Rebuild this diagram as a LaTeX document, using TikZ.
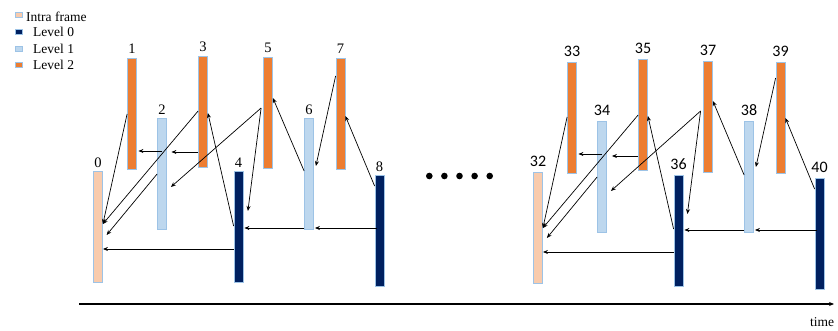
\documentclass[tikz,border=0pt]{standalone}
\usepackage{fontspec}
\setmainfont{Liberation Serif}
\newfontfamily\calfont{Carlito}
\usepackage{tikz}
\usetikzlibrary{positioning,arrows.meta}
\definecolor{peach}{HTML}{F8CBAD}
\definecolor{navy}{HTML}{002060}
\definecolor{skyblue}{HTML}{BDD7EE}
\definecolor{orng}{HTML}{ED7D31}
\definecolor{edgeblue}{HTML}{9DC3E6}
\tikzstyle{frm} = [draw=edgeblue, line width=0.8pt, minimum width=9pt, minimum height=111pt, inner sep=0pt, anchor=north]
\tikzstyle{intra} = [frm, fill=peach]
\tikzstyle{lzero} = [frm, fill=navy]
\tikzstyle{lone} = [frm, fill=skyblue]
\tikzstyle{ltwo} = [frm, fill=orng]
\tikzstyle{key} = [draw=edgeblue, line width=0.6pt, minimum width=7pt, minimum height=5pt, inner sep=0pt]
\tikzstyle{keytext} = [anchor=west, inner sep=0pt, font=\fontsize{13.5}{14}\selectfont]
\tikzstyle{num} = [inner sep=0pt, font=\fontsize{14.5}{15}\selectfont]
\tikzstyle{cnum} = [inner sep=0pt, font=\calfont\fontsize{16}{17}\selectfont]
\tikzstyle{link} = [->, line width=0.7pt]

\begin{document}
\begin{tikzpicture}[x=1pt, y=-1pt, >={Stealth[length=5pt,width=4pt]}]
  \useasboundingbox (0,0) rectangle (838,331);
  % legend
  \node (ki) at (19,15) [key, fill=peach] {};
  \node (kz) at (19,31.5) [key, fill=navy] {};
  \node (ko) at (19,49) [key, fill=skyblue] {};
  \node (kt) at (19,64.5) [key, fill=orng] {};
  \node (ti) at (26,17) [keytext] {Intra frame};
  \node (tz) at (33,32) [keytext] {Level 0};
  \node (to) at (33,49) [keytext] {Level 1};
  \node (tt) at (33,65) [keytext] {Level 2};
  % first group
  \node (f0) at (98,171) [intra] {};
  \node (f1) at (132,58) [ltwo] {};
  \node (f2) at (162,118) [lone] {};
  \node (f3) at (203,56) [ltwo] {};
  \node (f4) at (238.5,171) [lzero] {};
  \node (f5) at (268,57) [ltwo] {};
  \node (f6) at (309,118) [lone] {};
  \node (f7) at (340.5,58) [ltwo] {};
  \node (f8) at (379.5,175) [lzero] {};
  \node (n0) [num, above=3pt of f0] {0};
  \node (n1) [num, above=4pt of f1] {1};
  \node (n2) [num, above=3pt of f2] {2};
  \node (n3) [num, above=4pt of f3] {3};
  \node (n4) [num, above=3pt of f4] {4};
  \node (n5) [num, above=4pt of f5] {5};
  \node (n6) [num, above=3pt of f6] {6};
  \node (n7) [num, above=4pt of f7] {7};
  \node (n8) [num, above=3pt of f8] {8};
  % second group
  \node (f32) at (538,172) [intra] {};
  \node (f33) at (572,62) [ltwo] {};
  \node (f34) at (602,121) [lone] {};
  \node (f35) at (643,59) [ltwo] {};
  \node (f36) at (678.5,175) [lzero] {};
  \node (f37) at (708,61) [ltwo] {};
  \node (f38) at (749,121) [lone] {};
  \node (f39) at (780.5,62) [ltwo] {};
  \node (f40) at (819.5,178) [lzero] {};
  \node (n32) [cnum, above=5pt of f32] {32};
  \node (n33) [cnum, above=5pt of f33] {33};
  \node (n34) [cnum, above=5pt of f34] {34};
  \node (n35) [cnum, above=5pt of f35] {35};
  \node (n36) [cnum, above=5pt of f36] {36};
  \node (n37) [cnum, above=5pt of f37] {37};
  \node (n38) [cnum, above=5pt of f38] {38};
  \node (n39) [cnum, above=5pt of f39] {39};
  \node (n40) [cnum, above=5pt of f40] {40};
  % dots between groups
  \fill (429.3,176) circle (3.3) (444.4,176) circle (3.3) (459.5,176) circle (3.3)
        (474.6,176) circle (3.3) (489.7,176) circle (3.3);
  % references, first group
  \draw [link] ([yshift=-56]f1.north west) to ([yshift=-53]f0.north east);
  \draw [link] ([yshift=-33]f2.north) to ([xshift=1.5,yshift=-93]f1.north east);
  \draw [link] ([yshift=-96]f3.north west) to ([xshift=4.5,yshift=-34]f2.north east);
  \draw [link] ([yshift=-55]f3.north west) to ([yshift=-53]f0.north east);
  \draw [link] ([yshift=-56]f2.north west) to ([xshift=3.7,yshift=-64]f0.north east);
  \draw [link] ([xshift=-2,yshift=-51]f5.north west) to ([xshift=4,yshift=-69]f2.north east);
  \draw [link] ([xshift=-2,yshift=-51]f5.north west) to ([xshift=4.5,yshift=-40]f4.north east);
  \draw [link] ([yshift=-55]f4.north west) to ([yshift=-57]f3.north east);
  \draw [link] ([yshift=-78]f4.north west) to ([yshift=-78]f0.north east);
  \draw [link] ([yshift=-110]f6.north west) to ([xshift=1,yshift=-57]f4.north east);
  \draw [link] ([xshift=2,yshift=-53]f8.north west) to ([xshift=1,yshift=-110]f6.north east);
  \draw [link] ([yshift=-53]f6.north west) to ([yshift=-41]f5.north east);
  \draw [link] ([yshift=-18]f7.north west) to ([xshift=2,yshift=-48]f6.north east);
  \draw [link] ([yshift=-11]f8.north west) to ([yshift=-58]f7.north east);
  % references, second group
  \draw [link] ([yshift=-55]f33.north west) to ([yshift=-56]f32.north east);
  \draw [link] ([yshift=-33]f34.north) to ([xshift=1.5,yshift=-92]f33.north east);
  \draw [link] ([yshift=-97]f35.north west) to ([xshift=5,yshift=-35]f34.north east);
  \draw [link] ([yshift=-56]f35.north west) to ([yshift=-56]f32.north east);
  \draw [link] ([yshift=-56]f34.north west) to ([xshift=4,yshift=-66]f32.north east);
  \draw [link] ([xshift=-2.5,yshift=-50]f37.north west) to ([xshift=4,yshift=-70]f34.north east);
  \draw [link] ([xshift=-2.5,yshift=-50]f37.north west) to ([xshift=4,yshift=-39]f36.north east);
  \draw [link] ([yshift=-54]f36.north west) to ([yshift=-57]f35.north east);
  \draw [link] ([yshift=-77]f36.north west) to ([yshift=-80]f32.north east);
  \draw [link] ([yshift=-109]f38.north west) to ([xshift=1,yshift=-55]f36.north east);
  \draw [link] ([xshift=2,yshift=-52]f40.north west) to ([xshift=1,yshift=-109]f38.north east);
  \draw [link] ([yshift=-54]f38.north west) to ([yshift=-40]f37.north east);
  \draw [link] ([yshift=-16]f39.north west) to ([xshift=2,yshift=-46]f38.north east);
  \draw [link] ([yshift=-11]f40.north west) to ([yshift=-56]f39.north east);
  % time axis
  \coordinate (t0) at (79,304);
  \coordinate (t1) at (834,304);
  \node (tm) at (822,322) [keytext, anchor=center] {time};
  \draw [->, line width=1.1pt] (t0) -- (t1);
\end{tikzpicture}
\end{document}
